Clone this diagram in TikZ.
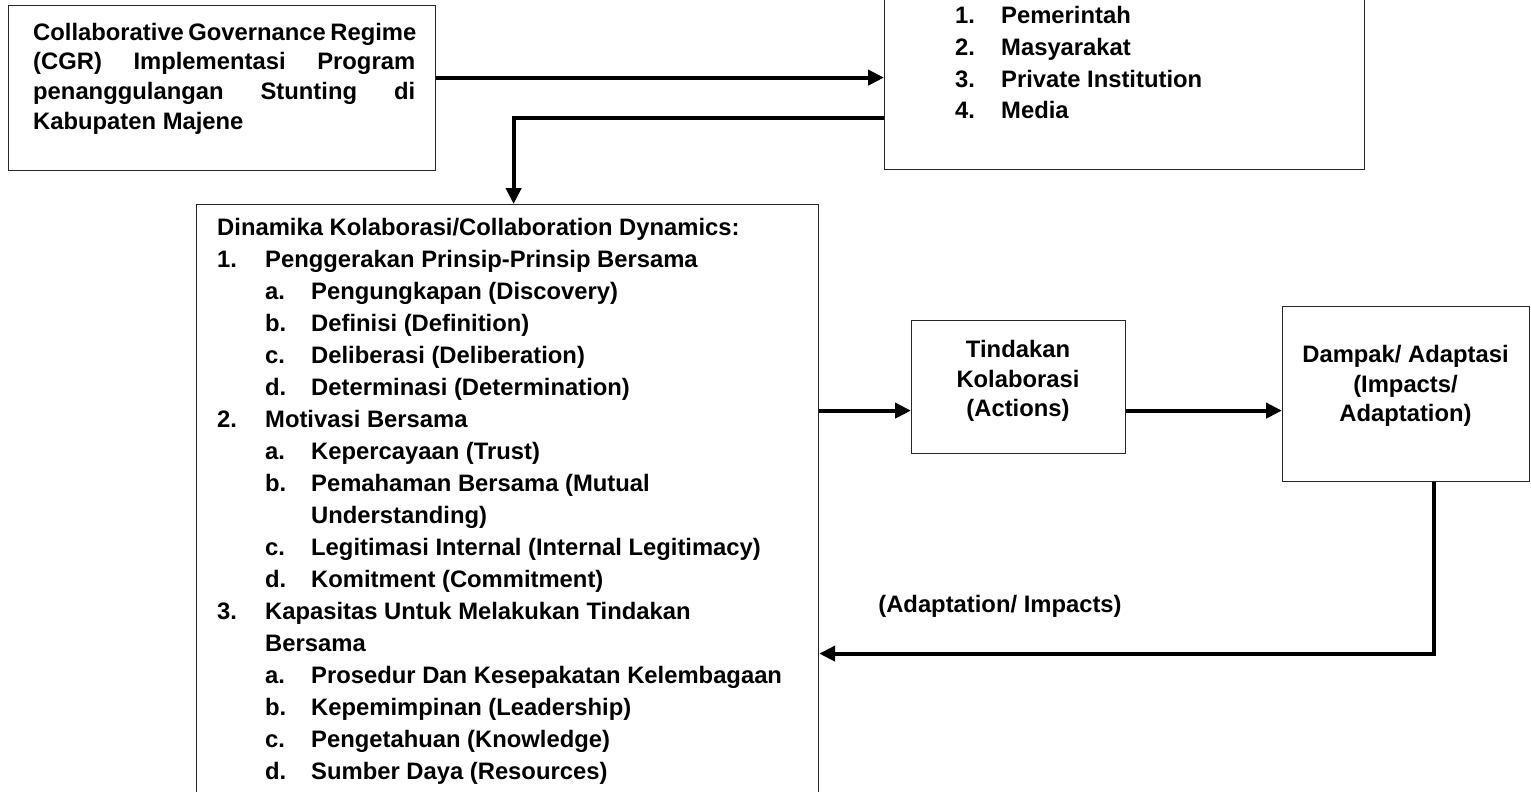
\documentclass[tikz,border=0pt]{standalone}
\usepackage{fontspec}
\setmainfont{Liberation Sans}
\usepackage{array}
\usetikzlibrary{arrows.meta,positioning}
\setlength{\tabcolsep}{0pt}
\newcommand{\jline}[1]{\makebox[382pt][s]{#1}}

\begin{document}
\begin{tikzpicture}[x=1pt, y=-1pt,
        box/.style = {draw=black!85, line width=1.2pt, inner sep=0pt, anchor=north west},
        txt/.style = {inner sep=0pt, font=\bfseries\fontsize{23.8}{#1}\selectfont},
        arr/.style = {line width=4pt, -{Triangle[length=16pt, width=15pt]}},]
        \useasboundingbox (0,0) rectangle (1531,792);

        \node[box, minimum width=427pt, minimum height=165pt] (cgr) at (8,5) {};
        \node[box, minimum width=480pt, minimum height=184pt] (actors) at (884,-15) {};
        \node[box, minimum width=622pt, minimum height=596pt] (dyn) at (196,204) {};
        \node[box, minimum width=214pt, minimum height=133pt] (act) at (911,320) {};
        \node[box, minimum width=247pt, minimum height=175pt] (impact) at (1282,306) {};

        \node[txt=29.7, anchor=north west] (cgrText) at (33,19.2) {\begin{tabular}{l}
            \jline{Collaborative Governance Regime}\\
            \jline{(CGR) Implementasi Program}\\
            \jline{penanggulangan Stunting di}\\
            Kabupaten Majene
        \end{tabular}};
        \node[txt=31.7, anchor=north west] (actorsText) at (955,1.3) {\begin{tabular}{w{l}{46pt}l}
            1. & Pemerintah\\
            2. & Masyarakat\\
            3. & Private Institution\\
            4. & Media
        \end{tabular}};
        \node[txt=32, anchor=north west] (dynText) at (217,212.6) {\begin{tabular}{w{l}{48pt}w{l}{46pt}l}
            \multicolumn{3}{l}{Dinamika Kolaborasi/Collaboration Dynamics:}\\
            1. & \multicolumn{2}{l}{Penggerakan Prinsip-Prinsip Bersama}\\
               & a. & Pengungkapan (Discovery)\\
               & b. & Definisi (Definition)\\
               & c. & Deliberasi (Deliberation)\\
               & d. & Determinasi (Determination)\\
            2. & \multicolumn{2}{l}{Motivasi Bersama}\\
               & a. & Kepercayaan (Trust)\\
               & b. & Pemahaman Bersama (Mutual\\
               &    & Understanding)\\
               & c. & Legitimasi Internal (Internal Legitimacy)\\
               & d. & Komitment (Commitment)\\
            3. & \multicolumn{2}{l}{Kapasitas Untuk Melakukan Tindakan}\\
               & \multicolumn{2}{l}{Bersama}\\
               & a. & Prosedur Dan Kesepakatan Kelembagaan\\
               & b. & Kepemimpinan (Leadership)\\
               & c. & Pengetahuan (Knowledge)\\
               & d. & Sumber Daya (Resources)
        \end{tabular}};
        \node[txt=29.5, anchor=north] (actText) at (1018,336.85) {\begin{tabular}{c}
            Tindakan\\ Kolaborasi\\ (Actions)
        \end{tabular}};
        \node[txt=29.5, anchor=north] (impactText) at (1405.5,341.85) {\begin{tabular}{c}
            Dampak/ Adaptasi\\ (Impacts/\\ Adaptation)
        \end{tabular}};
        \node[txt=29.5, anchor=base] (fbLabel) at (1000,612) {(Adaptation/ Impacts)};

        \coordinate (c1) at ([yshift=10.5pt]cgr.east);
        \coordinate (c2) at ([yshift=-40pt]actors.west);
        \coordinate (c3) at ([yshift=92pt]dyn.east);
        \coordinate (c4) at ([yshift=-151pt]dyn.east);

        \draw[arr] (c1) -- (c1 -| actors.west);
        \draw[arr] (c2) -| ([xshift=6pt]dyn.north);
        \draw[arr] (c3) -- (c3 -| act.west);
        \draw[arr] (c3 -| act.east) -- (c3 -| impact.west);
        \draw[arr] ([xshift=27.5pt]impact.south) |- (c4);
    \end{tikzpicture}
\end{document}
